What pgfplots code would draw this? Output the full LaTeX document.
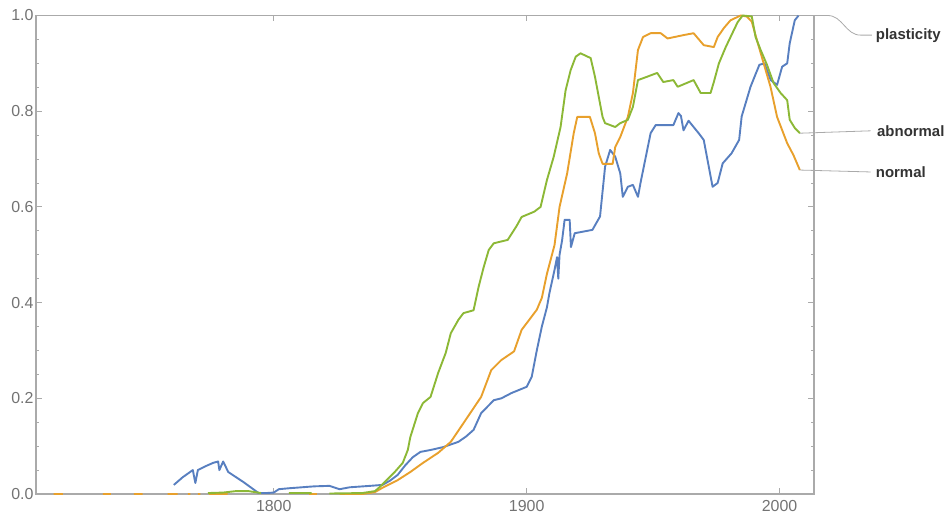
\documentclass[border=0pt]{standalone}
\usepackage{fontspec}
\setmainfont{Liberation Sans}
\usepackage{pgfplots}
\pgfplotsset{compat=1.18}
\definecolor{mblue}{RGB}{88,127,192}
\definecolor{morange}{RGB}{232,160,44}
\definecolor{mgreen}{RGB}{140,184,54}
\definecolor{framegray}{RGB}{170,170,170}
\definecolor{labgray}{RGB}{115,115,115}
\begin{document}
\begin{tikzpicture}
\begin{axis}[
  at={(36bp,30bp)}, anchor=south west,
  scale only axis, width=778bp, height=478.5bp,
  xmin=1706, xmax=2013.6, ymin=0, ymax=1,
  clip=false,
  axis line style={framegray, line width=1.3bp},
  xtick={1800,1900,2000}, ytick={0,0.2,0.4,0.6,0.8,1.0},
  minor y tick num=3,
  tick align=inside,
  major tick length=6bp, minor tick length=3.5bp,
  tick style={framegray, line width=0.8bp},
  /pgf/number format/assume math mode=true,
  xticklabel style={/pgf/number format/1000 sep={}, yshift=-3bp},
  yticklabel style={/pgf/number format/fixed, /pgf/number format/fixed zerofill, /pgf/number format/precision=1, xshift=1bp},
  ticklabel style={font=\fontsize{16}{18}\selectfont, text=labgray},
  every axis plot/.append style={line width=1.9bp, line join=round},
  unbounded coords=jump,
]
% plasticity
\addplot[mblue] coordinates {
(1760.5,0.019)(1764,0.035)(1768,0.05)(1769,0.023)(1770,0.05)(1773,0.058)(1776,0.065)(1778,0.068)(1778.5,0.05)(1780,0.068)(1782,0.046)(1788,0.025)(1794,0.002)(1797,0.002)(1800,0.003)(1802,0.01)(1806,0.012)(1811,0.014)(1816,0.016)(1822,0.017)(1826,0.01)(1830,0.014)(1838,0.017)(1843,0.019)(1846,0.028)(1849,0.04)(1852,0.06)(1855,0.077)(1858,0.088)(1862,0.092)(1867,0.098)(1873,0.109)(1876,0.12)(1879,0.134)(1882,0.169)(1887,0.196)(1890,0.2)(1894,0.211)(1900,0.224)(1902,0.245)(1904,0.3)(1906,0.35)(1908,0.39)(1909,0.42)(1911,0.468)(1912,0.495)(1912.5,0.45)(1913,0.50)(1914,0.53)(1915,0.573)(1917,0.573)(1917.5,0.516)(1919,0.545)(1926,0.552)(1929,0.58)(1931,0.684)(1933,0.719)(1935,0.705)(1937,0.67)(1938,0.621)(1940,0.642)(1942,0.646)(1944,0.621)(1945,0.65)(1949,0.754)(1951,0.771)(1958,0.771)(1960,0.796)(1961,0.79)(1962,0.76)(1964,0.78)(1968,0.754)(1970,0.74)(1972,0.684)(1973.5,0.642)(1975.5,0.65)(1977.5,0.691)(1981,0.712)(1984,0.74)(1985,0.789)(1988.5,0.851)(1992,0.897)(1994,0.90)(1996.5,0.865)(1999,0.855)(2001,0.893)(2003,0.90)(2004,0.942)(2006,0.99)(2007.5,1.0)
};
% normal
\addplot[morange] coordinates {
(1713,0)(1716.6,0) (1717,nan) (1732.4,0)(1735.6,0) (1736,nan) (1744.7,0)(1748.2,0) (1749,nan) (1758,0)(1762,0) (1763,nan) (1766,0)(1767,0) (1768,nan) (1770,0)(1771,0) (1772,nan) (1774.3,0)(1781.8,0) (1782,nan) (1814,0)(1817,0) (1818,nan)
(1826,0)(1835,0.0)(1840,0.004)(1843,0.013)(1849,0.029)(1854,0.046)(1859,0.065)(1865,0.086)(1870,0.109)(1875,0.148)(1882,0.203)(1886,0.259)(1890,0.28)(1895,0.298)(1898,0.343)(1904,0.385)(1906,0.41)(1908,0.46)(1910,0.50)(1911,0.52)(1913,0.60)(1916,0.67)(1918.6,0.754)(1920,0.788)(1925,0.788)(1927,0.754)(1928.5,0.712)(1930,0.69)(1934,0.69)(1935,0.725)(1937,0.746)(1940,0.788)(1942,0.838)(1944,0.928)(1946,0.955)(1949,0.963)(1953,0.963)(1955.7,0.952)(1962,0.959)(1966,0.963)(1970,0.938)(1974,0.934)(1975.5,0.955)(1978,0.974)(1980.6,0.99)(1984.6,1.0)(1987,0.998)(1989,0.987)(1991,0.949)(1993.7,0.90)(1996.4,0.851)(1999,0.788)(2003,0.733)(2005.5,0.708)(2008,0.677)
};
% abnormal
\addplot[mgreen] coordinates {
(1774,0.002)(1780,0.003)(1785,0.006)(1790,0.006)(1795,0.002) (1796,nan) (1806,0.002)(1815,0.002) (1816,nan)
(1822,0.001)(1835,0.002)(1840,0.006)(1842,0.015)(1847.5,0.044)(1851,0.065)(1853,0.092)(1854,0.119)(1857,0.169)(1859,0.19)(1862,0.203)(1865,0.253)(1868,0.295)(1870,0.336)(1873,0.364)(1875,0.378)(1879,0.384)(1881,0.433)(1883,0.474)(1885,0.51)(1887,0.524)(1892.5,0.531)(1896,0.56)(1898,0.579)(1903,0.59)(1905.5,0.60)(1908,0.656)(1910.7,0.705)(1913.4,0.767)(1915.4,0.844)(1917.4,0.886)(1919.4,0.914)(1921.3,0.921)(1925.3,0.911)(1927,0.872)(1928.5,0.83)(1930,0.788)(1931,0.775)(1935,0.767)(1937,0.775)(1940,0.782)(1942,0.809)(1944,0.865)(1947.6,0.872)(1951.6,0.88)(1954,0.861)(1958,0.865)(1959.7,0.851)(1966,0.865)(1968.8,0.838)(1972.7,0.838)(1974,0.861)(1976,0.90)(1978.7,0.934)(1980.6,0.955)(1983.4,0.986)(1985.4,1.0)(1989,0.998)(1990.5,0.955)(1992.5,0.928)(1995,0.897)(1997.6,0.859)(2000.4,0.838)(2003,0.823)(2004,0.782)(2006,0.765)(2008,0.754)
};
% leader lines and labels
\draw[framegray, line width=0.8bp] (axis cs:2007.5,1) -- (axis cs:2019,1) to[out=0,in=180] (axis cs:2032,0.959) -- (axis cs:2036.5,0.959);
\draw[framegray, line width=0.8bp] (axis cs:2008,0.754) -- (axis cs:2036,0.759);
\draw[framegray, line width=0.8bp] (axis cs:2008,0.677) -- (axis cs:2036,0.673);
\node[anchor=west, inner sep=0pt, font=\fontsize{15}{17}\selectfont\bfseries, text=black!80] at (axis cs:2038,0.957) {plasticity};
\node[anchor=west, inner sep=0pt, font=\fontsize{15}{17}\selectfont\bfseries, text=black!80] at (axis cs:2038.5,0.759) {abnormal};
\node[anchor=west, inner sep=0pt, font=\fontsize{15}{17}\selectfont\bfseries, text=black!80] at (axis cs:2038,0.673) {normal};
\end{axis}
\pgfresetboundingbox
\path[use as bounding box] (0,0) rectangle (949bp,524bp);
\end{tikzpicture}
\end{document}
